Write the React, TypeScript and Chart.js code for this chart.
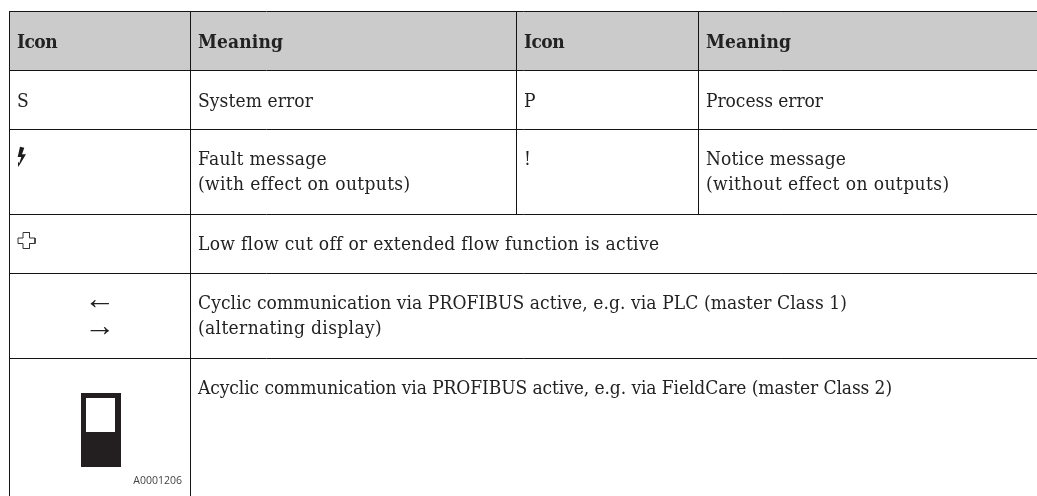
import React, { useEffect, useRef } from "react";
import { Chart, registerables } from "chart.js";

Chart.register(...registerables);

const pageWidth = 1037;
const pageHeight = 496;

const headers: [string, number, number, number][] = [
  ["Icon", 17, 48, 57],
  ["Meaning", 198, 48, 283],
  ["Icon", 524, 48, 564],
  ["Meaning", 706, 48, 791],
];

const rowEdges = [11.5, 70.5, 129.5, 214.5, 273.5, 358.5];
const tableLeft = 9.5;
const tableRight = 1037;
const tableBottom = 496;
const fullColumns = [9.5, 190.5];
const upperColumns = [516.5, 698.5];

// text, left, baseline, right end
const cells: [string, number, number, number][] = [
  ["S", 17, 107, 0],
  ["System error", 198, 107, 313],
  ["P", 524, 107, 0],
  ["Process error", 706, 107, 823],
  ["Fault message", 198, 165, 327],
  ["(with effect on outputs)", 198, 190, 410],
  ["!", 524, 165, 0],
  ["Notice message", 706, 165, 846],
  ["(without effect on outputs)", 706, 190, 949],
  ["Low flow cut off or extended flow function is active", 198, 250, 658],
  ["Cyclic communication via PROFIBUS active, e.g. via PLC (master Class 1)", 198, 309, 847],
  ["(alternating display)", 198, 334, 382],
  ["Acyclic communication via PROFIBUS active, e.g. via FieldCare (master Class 2)", 198, 394, 892],
];

const arrows: [string, number, number][] = [
  ["←", 100, 309],
  ["→", 100, 336],
];
const figureCode: [string, number, number] = ["A0001206", 182, 484];

const headerBand = [[10, 12], [1037, 12], [1037, 70], [10, 70], [10, 12]];
const boltIcon = [[20, 146.7], [24.3, 147.7], [22, 154.3], [26, 154.3], [20, 164.3], [18, 167], [18, 161.7], [19.3, 163.3], [21.3, 157], [17.7, 157], [20, 146.7]];
const crossIcon = [[23, 232.5], [29.5, 232.5], [29.5, 238], [35, 238], [35, 243.5], [29.5, 243.5], [29.5, 248.5], [23, 248.5], [23, 243.5], [18, 243.5], [18, 238], [23, 238], [23, 232.5]];
const deviceBody = [[81, 393], [121, 393], [121, 467], [81, 467], [81, 393]];
const deviceWindow = [[86, 398], [115, 398], [115, 432], [86, 432], [86, 398]];

const toPoints = (list: number[][]) => list.map(([x, y]) => ({ x, y }));
const rule = (a: number[], b: number[]) => ({
  data: toPoints([a, b]),
  showLine: true,
  borderColor: "#141414",
  borderWidth: 1,
  pointRadius: 0,
  fill: false,
  tension: 0,
});
const shape = (list: number[][], color: string, outline = 0, outlineColor = color) => ({
  data: toPoints(list),
  showLine: true,
  borderColor: outlineColor,
  borderWidth: outline,
  backgroundColor: color,
  pointRadius: 0,
  fill: "shape",
  tension: 0,
});

const tableText = {
  id: "tableText",
  afterDatasetsDraw(chart: any) {
    const { ctx, scales } = chart;
    const put = (t: string, x: number, y: number) =>
      ctx.fillText(t, scales.x.getPixelForValue(x), scales.y.getPixelForValue(y));
    const fit = ([t, x, y, end]: [string, number, number, number]) => {
      ctx.letterSpacing = "0px";
      if (end > x) {
        const gap = (end - x - ctx.measureText(t).width) / t.length;
        ctx.letterSpacing = `${gap.toFixed(3)}px`;
      }
      put(t, x, y);
      ctx.letterSpacing = "0px";
    };
    ctx.save();
    ctx.textBaseline = "alphabetic";
    ctx.fillStyle = "#222222";
    ctx.textAlign = "left";
    ctx.font = 'bold 19px "DejaVu Serif Condensed"';
    headers.forEach(fit);
    ctx.font = '19px "DejaVu Serif Condensed"';
    cells.forEach(fit);
    ctx.textAlign = "center";
    ctx.font = '31px "Liberation Serif"';
    arrows.forEach(([t, x, y]) => put(t, x, y));
    ctx.textAlign = "right";
    ctx.fillStyle = "#444444";
    ctx.font = '10.5px "Open Sans"';
    put(figureCode[0], figureCode[1], figureCode[2]);
    ctx.restore();
  },
};

export default function App() {
  const ref = useRef<HTMLCanvasElement>(null);
  useEffect(() => {
    const datasets: any[] = [
      ...rowEdges.map((y) => rule([tableLeft, y], [tableRight, y])),
      ...fullColumns.map((x) => rule([x, rowEdges[0]], [x, tableBottom])),
      ...upperColumns.map((x) => rule([x, rowEdges[0]], [x, rowEdges[3]])),
      shape(deviceWindow, "#ffffff"),
      shape(deviceBody, "#231f20"),
      shape(boltIcon, "#1c1c1c"),
      shape(crossIcon, "rgba(0,0,0,0)", 1, "#333333"),
      shape(headerBand, "#cbcbcb"),
    ];
    const chart = new Chart(ref.current as HTMLCanvasElement, {
      type: "scatter",
      data: { datasets },
      options: {
        animation: false,
        responsive: false,
        layout: { padding: 0 },
        events: [],
        plugins: { legend: { display: false }, tooltip: { enabled: false }, title: { display: false } },
        scales: {
          x: { type: "linear", display: false, min: 0, max: pageWidth },
          y: { type: "linear", display: false, min: 0, max: pageHeight, reverse: true },
        },
      },
      plugins: [tableText],
    });
    return () => chart.destroy();
  }, []);
  return (
    <canvas
      ref={ref}
      width={pageWidth}
      height={pageHeight}
      style={{ position: "fixed", left: 0, top: 0, width: pageWidth, height: pageHeight, background: "#ffffff" }}
    />
  );
}
